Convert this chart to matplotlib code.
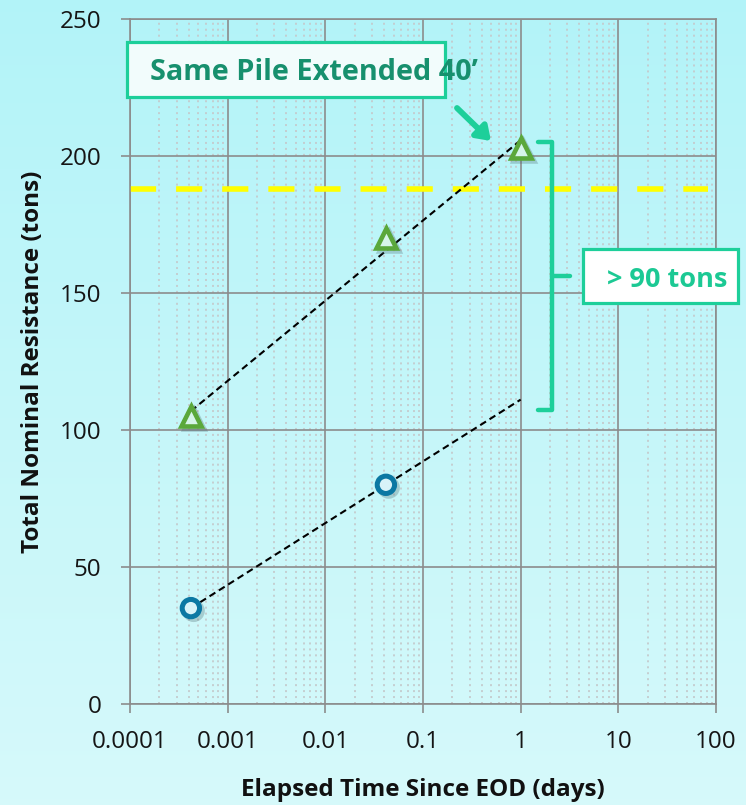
import numpy as np
import matplotlib.pyplot as plt
import matplotlib.patheffects as pe
from matplotlib.patches import Rectangle
from matplotlib.ticker import LogLocator, NullFormatter

plt.rcParams['font.family'] = ['Open Sans', 'DejaVu Sans']

# data
t_original = [0.00042, 0.0417]          # days since EOD
r_original = [35, 80]                   # tons
t_extended = [0.00042, 0.0417, 1.0]
r_extended = [105, 170, 203]
required_load = 188
trend_end = 1.0
xtick_vals = [0.0001, 0.001, 0.01, 0.1, 1, 10, 100]
xtick_labels = ['0.0001', '0.001', '0.01', '0.1', '1', '10', '100']
ytick_vals = [0, 50, 100, 150, 200, 250]

W, H = 746, 805
teal = '#1dcf9a'
grid_c = '#8c8c8c'


def px(x, y):
    # pixel position (from top-left) -> figure fraction
    return x / W, 1 - y / H


fig = plt.figure(figsize=(W / 100, H / 100), dpi=100)

# light cyan gradient background
bg = fig.add_axes([0, 0, 1, 1], zorder=-10)
grad = np.linspace(0, 1, 256)[:, None] * np.ones((1, 16))
c_top = np.array([0.70, 0.955, 0.975])
c_bot = np.array([0.84, 0.978, 0.982])
img = c_top[None, None, :] * (1 - grad[..., None]) + c_bot[None, None, :] * grad[..., None]
bg.imshow(img, aspect='auto', extent=[0, 1, 0, 1])
bg.axis('off')

ax = fig.add_axes([130 / W, 1 - 704 / H, 586 / W, 685 / H])
ax.set_facecolor('none')
ax.set_xscale('log')
ax.set_xlim(1e-4, 100)
ax.set_ylim(0, 250)

ax.set_xticks(xtick_vals)
ax.set_xticklabels(xtick_labels)
ax.xaxis.set_minor_locator(LogLocator(base=10, subs=np.arange(2, 10), numticks=20))
ax.xaxis.set_minor_formatter(NullFormatter())
ax.set_yticks(ytick_vals)

ax.grid(True, which='major', color=grid_c, lw=1.2, zorder=0)
ax.grid(True, which='minor', axis='x', color='#c4cbcd', lw=1.3, ls=(0, (1.1, 2.2)), zorder=0)
ax.set_axisbelow(True)
for s in ax.spines.values():
    s.set_color(grid_c)
    s.set_linewidth(1.2)

ax.tick_params(axis='both', which='major', direction='out', length=6.5, width=1.2,
               color=grid_c, labelsize=17.5, labelcolor='#151515')
ax.tick_params(axis='x', which='major', pad=12)
ax.tick_params(axis='y', which='major', pad=14)
ax.tick_params(axis='x', which='minor', length=0)

ax.set_xlabel('Elapsed Time Since EOD (days)', fontsize=17.5, fontweight='bold', color='#111111')
ax.xaxis.set_label_coords(0.5, -0.108)
ax.set_ylabel('Total Nominal Resistance (tons)', fontsize=17.5, fontweight='bold',
              color='#111111', va='center')
ax.yaxis.set_label_coords(-0.1655, 0.5)

# required load line
ax.axhline(required_load, xmin=0, xmax=0.986, color='#ffff00', lw=4,
           dashes=(4.7, 3.6), zorder=2)

# log trendlines
for t, r in [(t_original, r_original), (t_extended, r_extended)]:
    lx = np.log10(t)
    b, a = np.polyfit(lx, r, 1)
    xs = np.array([min(t), trend_end])
    ax.plot(xs, a + b * np.log10(xs), color='black', lw=1.5, dashes=(3.3, 2), zorder=3)

shadow = [pe.SimpleLineShadow(offset=(2, -2), shadow_color='#4a6a70', alpha=0.3), pe.Normal()]
ax.plot(t_original, r_original, ls='none', marker='o', ms=12.5, mew=3.6,
        mec='#0b78a3', mfc='#d8f3f8', zorder=4, path_effects=shadow)
ax.plot(t_extended, r_extended, ls='none', marker='^', ms=14.5, mew=3.3,
        mec='#5aa83b', mfc='#d6f5ea', zorder=4, path_effects=shadow)

# bracket spanning the gain
bx, bl, bt = 2.09, 1.5, 3.19
ax.plot([bl, bx, bx, bl], [205.2, 205.2, 107.3, 107.3], color=teal, lw=3.2,
        solid_joinstyle='round', solid_capstyle='round', zorder=5, clip_on=False)
ax.plot([bx, bt], [156.2, 156.2], color=teal, lw=3.2, solid_capstyle='round',
        zorder=5, clip_on=False)

# callout boxes
x0, y1 = px(127, 97)
x1, y0 = px(445, 42)
fig.add_artist(Rectangle((x0, y1), x1 - x0, y0 - y1, transform=fig.transFigure,
                         facecolor='#f2fcfc', edgecolor=teal, lw=2.3, zorder=6))
fig.text(*px(150, 72), 'Same Pile Extended 40\u2019', fontsize=20.8, fontweight='bold',
         color='#17906e', ha='left', va='center', zorder=7)

x0, y1 = px(583, 303)
x1, y0 = px(738, 249)
fig.add_artist(Rectangle((x0, y1), x1 - x0, y0 - y1, transform=fig.transFigure,
                         facecolor='white', edgecolor=teal, lw=2.3, zorder=6))
fig.text(*px(667, 280), '> 90 tons', fontsize=19.5, fontweight='bold',
         color='#1cc994', ha='center', va='center', zorder=7)

# arrow to the extended pile point
fig.add_artist(plt.Annotation('', xy=px(491, 141), xytext=px(457, 108),
                              xycoords='figure fraction', textcoords='figure fraction',
                              arrowprops=dict(arrowstyle='-|>,head_length=0.8,head_width=0.55',
                                              color=teal, lw=4.2, shrinkA=0, shrinkB=0)))

fig.savefig('out.png', dpi=100)
